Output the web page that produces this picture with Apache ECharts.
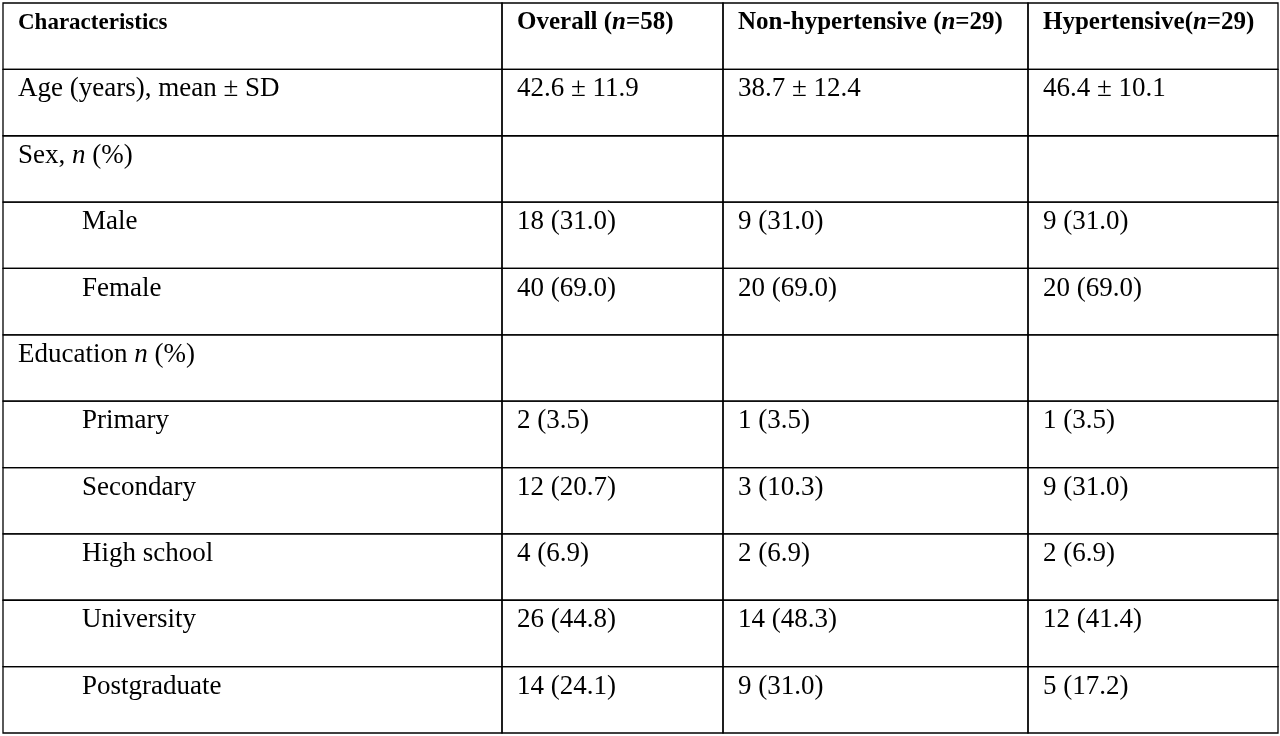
<!DOCTYPE html>
<html><head><meta charset="utf-8">
<script src="https://cdn.jsdelivr.net/npm/echarts@6/dist/echarts.min.js"></script>
<style>html,body{margin:0;padding:0;background:#fff}#c{width:1280px;height:736px}</style>
</head><body><div id="c"></div>
<script>
const headers = ["Characteristics", "Overall ({ib|n}=58)", "Non-hypertensive ({ib|n}=29)", "Hypertensive({ib|n}=29)"];
const rowLabels = ["Age (years), mean ± SD", "Sex, {i|n} (%)", "Male", "Female", "Education {i|n} (%)", "Primary", "Secondary", "High school", "University", "Postgraduate"];
const indented = [false, false, true, true, false, true, true, true, true, true];
const overall = ["42.6 ± 11.9", "", "18 (31.0)", "40 (69.0)", "", "2 (3.5)", "12 (20.7)", "4 (6.9)", "26 (44.8)", "14 (24.1)"];
const nonHyp = ["38.7 ± 12.4", "", "9 (31.0)", "20 (69.0)", "", "1 (3.5)", "3 (10.3)", "2 (6.9)", "14 (48.3)", "9 (31.0)"];
const hyp = ["46.4 ± 10.1", "", "9 (31.0)", "20 (69.0)", "", "1 (3.5)", "9 (31.0)", "2 (6.9)", "12 (41.4)", "5 (17.2)"];
const colEdges = [0, 499, 720, 1025, 1275];

const data = [];
headers.forEach((h, c) => data.push([c, 0, h, 1, 0]));
rowLabels.forEach((l, r) => {
  data.push([0, r + 1, l, 0, indented[r] ? 1 : 0]);
  data.push([1, r + 1, overall[r], 0, 0]);
  data.push([2, r + 1, nonHyp[r], 0, 0]);
  data.push([3, r + 1, hyp[r], 0, 0]);
});

const chart = echarts.init(document.getElementById('c'));
chart.setOption({
  animation: false,
  grid: {left: 3, right: 2, top: 3, bottom: 3},
  xAxis: {type: 'value', min: 0, max: 1275, show: false},
  yAxis: {type: 'value', min: 0, max: 11, inverse: true, show: false},
  series: [{
    type: 'custom',
    data: data,
    renderItem: function (params, api) {
      const c = api.value(0), r = api.value(1);
      const p0 = api.coord([colEdges[c], r]);
      const p1 = api.coord([colEdges[c + 1], r + 1]);
      const item = data[params.dataIndex];
      const bold = item[3] === 1;
      const ind = item[4] === 1;
      const fs = bold ? (c === 0 ? 23 : 25) : 27;
      return {
        type: 'group',
        children: [
          {type: 'rect', shape: {x: p0[0], y: p0[1], width: p1[0] - p0[0], height: p1[1] - p0[1]},
           style: {fill: 'none', stroke: '#000', lineWidth: 1.3}},
          {type: 'text', x: p0[0] + (ind ? 79 : 15), y: p0[1] + 20,
           style: {text: item[2], fill: '#000', font: (bold ? 'bold ' : '') + fs + 'px "Liberation Serif", serif',
             verticalAlign: 'middle', align: 'left',
             rich: {
               i: {fontStyle: 'italic', fontSize: fs, fontFamily: 'Liberation Serif', fill: '#000'},
               ib: {fontStyle: 'italic', fontWeight: 'bold', fontSize: fs, fontFamily: 'Liberation Serif', fill: '#000'}
             }}}
        ]
      };
    }
  }]
});
</script></body></html>
